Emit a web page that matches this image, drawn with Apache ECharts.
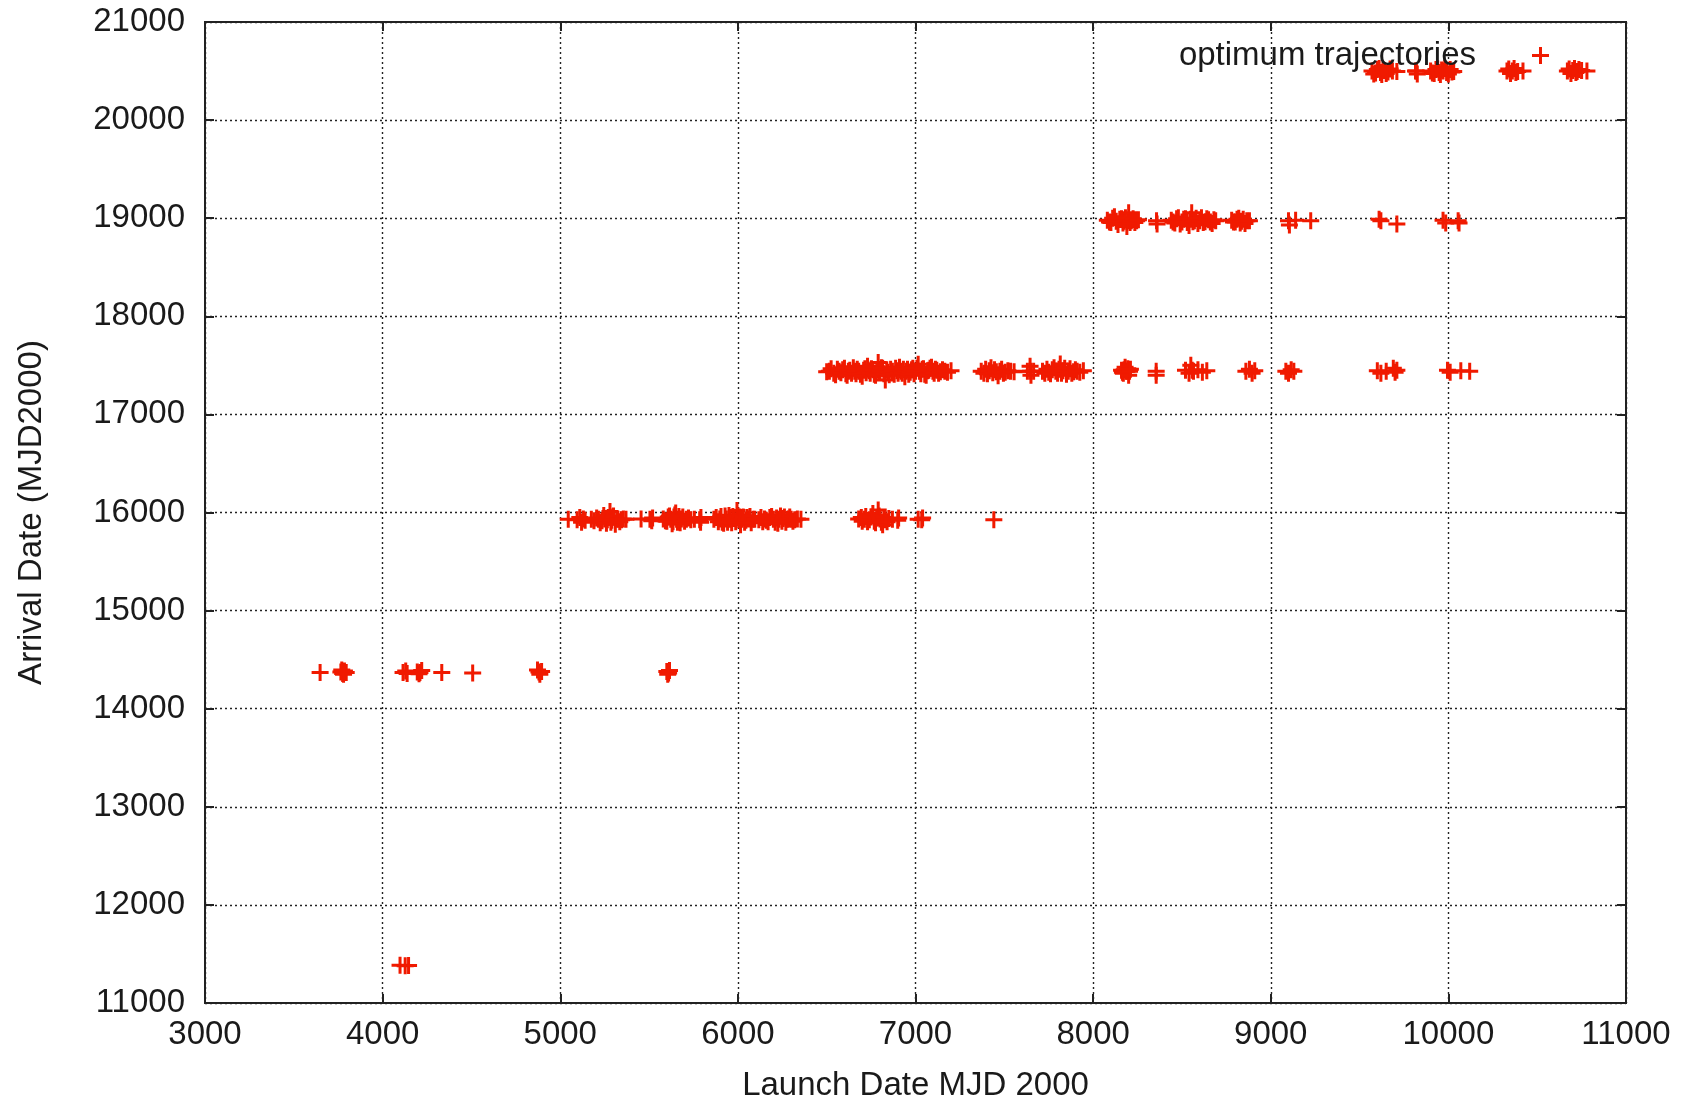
<!DOCTYPE html>
<html>
<head>
<meta charset="utf-8">
<title>optimum trajectories</title>
<script src="https://cdn.jsdelivr.net/npm/echarts@6/dist/echarts.min.js"></script>
<style>
  html, body { margin: 0; padding: 0; background: #fff; }
  #chart { width: 1691px; height: 1101px; }
</style>
</head>
<body>
<div id="chart"></div>
<script>
// axis ticks
var xTicks = [3000, 4000, 5000, 6000, 7000, 8000, 9000, 10000, 11000];
var yTicks = [11000, 12000, 13000, 14000, 15000, 16000, 17000, 18000, 19000, 20000, 21000];

// [launch date, arrival date], one array per arrival band
var band11400 = [[4098, 11385], [4127, 11380], [4146, 11383]];

var band14400 = [
  [3648, 14370], [3765, 14375], [3775, 14360], [3785, 14385], [3795, 14370], [3770, 14395], [3780, 14350],
  [4115, 14370], [4130, 14385], [4138, 14360], [4195, 14375], [4210, 14370], [4220, 14390], [4205, 14355],
  [4333, 14370], [4507, 14365], [4872, 14395], [4880, 14375], [4895, 14380], [4885, 14350],
  [5600, 14380], [5610, 14365], [5615, 14390], [5605, 14350]
];

var band15900 = [
  [5045, 15930], [5095, 15925], [5110, 15950], [5120, 15900], [5130, 15935], [5140, 15920],
  [5175, 15930], [5190, 15915], [5205, 15945], [5215, 15930], [5225, 15895], [5235, 15915], [5245, 15970],
  [5250, 15935], [5260, 15890], [5265, 15925], [5270, 15950], [5280, 16010], [5285, 15900], [5290, 15920],
  [5295, 15955], [5300, 15965], [5310, 15880], [5318, 15935], [5325, 15930], [5335, 15905], [5345, 15925],
  [5355, 15935], [5370, 15930],
  [5455, 15935], [5505, 15930], [5515, 15915], [5520, 15945],
  [5580, 15935], [5592, 15915], [5600, 15910], [5608, 15955], [5615, 15965], [5622, 15930], [5630, 15885],
  [5635, 15905], [5640, 15955], [5645, 15975], [5650, 15995], [5655, 15930], [5660, 15900], [5668, 15960],
  [5675, 15895], [5682, 15935], [5690, 15955], [5700, 15910], [5710, 15930], [5722, 15945], [5735, 15925],
  [5755, 15930],
  [5785, 15925], [5790, 15900], [5792, 15950],
  [5865, 15930], [5878, 15950], [5890, 15905], [5898, 15935], [5905, 15960], [5912, 15900], [5920, 15890],
  [5928, 15965], [5935, 15935], [5942, 15900], [5950, 15970], [5958, 15930], [5965, 15895], [5972, 15960],
  [5980, 15940], [5988, 15905], [5995, 16020], [6000, 15965], [6005, 15925], [6010, 15955], [6015, 15875],
  [6022, 15930], [6030, 15955], [6038, 15900], [6045, 15920], [6052, 15950], [6060, 15935], [6068, 15960],
  [6075, 15895], [6085, 15930], [6095, 15930],
  [6118, 15925], [6130, 15950], [6140, 15905], [6150, 15935], [6160, 15920], [6170, 15905], [6180, 15950],
  [6190, 15960], [6200, 15930], [6210, 15900], [6218, 15945], [6225, 15890], [6232, 15930], [6240, 15965],
  [6248, 15910], [6255, 15940], [6262, 15955], [6270, 15900], [6278, 15930], [6285, 15935], [6292, 15955],
  [6300, 15930], [6310, 15910], [6320, 15925], [6335, 15935], [6355, 15930],
  [6680, 15935], [6695, 15950], [6700, 15910], [6712, 15930], [6720, 15960], [6730, 15905], [6740, 15925],
  [6750, 15955], [6760, 15990], [6768, 15910], [6775, 15895], [6782, 15945], [6790, 16025], [6795, 15965],
  [6800, 15935], [6808, 15900], [6815, 15875], [6822, 15950], [6830, 15925], [6840, 15905], [6850, 15940],
  [6870, 15930], [6900, 15920], [6905, 15945],
  [7015, 15930], [7035, 15925], [7040, 15945],
  [7441, 15925]
];

var band17400 = [
  [6500, 17435], [6515, 17440], [6525, 17465], [6540, 17420], [6550, 17405], [6560, 17460], [6570, 17440],
  [6580, 17425], [6590, 17455], [6600, 17470], [6608, 17415], [6615, 17400], [6622, 17440], [6630, 17450],
  [6640, 17420], [6650, 17475], [6658, 17440], [6665, 17415], [6672, 17460], [6680, 17440], [6690, 17410],
  [6700, 17390], [6708, 17450], [6715, 17465], [6722, 17425], [6730, 17490], [6738, 17445], [6745, 17420],
  [6752, 17465], [6760, 17455], [6768, 17410], [6775, 17400], [6782, 17450], [6790, 17530], [6795, 17440],
  [6800, 17440], [6808, 17475], [6815, 17470], [6822, 17415], [6830, 17350], [6838, 17455], [6845, 17430],
  [6852, 17405], [6860, 17460], [6870, 17440], [6880, 17410], [6888, 17470], [6895, 17445], [6902, 17420],
  [6910, 17480], [6918, 17440], [6925, 17420], [6932, 17460], [6940, 17385], [6948, 17440], [6955, 17460],
  [6962, 17410], [6970, 17430], [6978, 17455], [6985, 17470], [6992, 17415], [7000, 17440], [7008, 17470],
  [7015, 17510], [7022, 17440], [7030, 17415], [7038, 17460], [7045, 17465], [7052, 17410], [7060, 17400],
  [7068, 17445], [7075, 17450], [7082, 17470], [7090, 17480], [7098, 17440], [7105, 17420], [7112, 17460],
  [7120, 17450], [7130, 17420], [7140, 17435], [7152, 17455], [7165, 17440], [7180, 17430], [7200, 17445],
  [7370, 17440], [7385, 17420], [7395, 17460], [7405, 17415], [7415, 17445], [7425, 17475], [7435, 17425],
  [7445, 17455], [7455, 17435], [7465, 17395], [7475, 17440], [7485, 17460], [7495, 17420], [7505, 17430],
  [7520, 17445], [7535, 17440], [7555, 17435],
  [7630, 17440], [7645, 17490], [7648, 17440], [7650, 17400], [7665, 17440],
  [7715, 17440], [7728, 17420], [7740, 17460], [7750, 17430], [7760, 17415], [7770, 17455], [7780, 17475],
  [7790, 17440], [7800, 17420], [7808, 17460], [7815, 17515], [7822, 17420], [7830, 17445], [7840, 17470],
  [7850, 17410], [7860, 17440], [7870, 17465], [7880, 17420], [7890, 17435], [7900, 17455], [7910, 17440],
  [7925, 17430], [7945, 17445],
  [8160, 17450], [8165, 17430], [8170, 17420], [8175, 17455], [8180, 17480], [8185, 17440], [8190, 17440],
  [8195, 17465], [8200, 17400], [8205, 17440], [8210, 17460],
  [8355, 17440], [8355, 17400],
  [8520, 17450], [8540, 17420], [8550, 17500], [8558, 17450], [8565, 17440], [8590, 17455], [8615, 17430],
  [8640, 17445],
  [8860, 17440], [8880, 17460], [8895, 17420], [8910, 17445],
  [9085, 17440], [9100, 17420], [9115, 17455], [9130, 17440],
  [9600, 17445], [9620, 17420], [9650, 17440], [9690, 17470], [9700, 17430], [9710, 17450],
  [9995, 17450], [10010, 17430], [10070, 17445], [10120, 17440]
];

var band19000 = [
  [8080, 18980], [8092, 18960], [8100, 18955], [8110, 19000], [8120, 19015], [8130, 18970], [8140, 18935],
  [8150, 18990], [8160, 18995], [8168, 18950], [8175, 18970], [8182, 19005], [8190, 18915], [8195, 18975],
  [8200, 19055], [8208, 18955], [8215, 18975], [8225, 18995], [8235, 18955], [8245, 18975], [8255, 18985],
  [8357, 18975], [8360, 18940],
  [8440, 18980], [8450, 18960], [8460, 18950], [8470, 18995], [8480, 19005], [8490, 18940], [8500, 18960],
  [8510, 18990], [8520, 18995], [8530, 18955], [8540, 18925], [8548, 18990], [8555, 19055], [8562, 18965],
  [8570, 18975], [8580, 19000], [8590, 18945], [8600, 18975], [8610, 19005], [8620, 18955], [8630, 18965],
  [8640, 18995], [8650, 18985], [8660, 18960], [8670, 18945], [8680, 18985], [8690, 18975],
  [8780, 18980], [8790, 18960], [8800, 18960], [8810, 18990], [8820, 19000], [8828, 18950], [8835, 18970],
  [8845, 18990], [8855, 18945], [8865, 18975], [8880, 18975],
  [9100, 18975], [9105, 18930], [9140, 18980], [9225, 18975],
  [9610, 18990], [9620, 18975], [9710, 18940],
  [9970, 18980], [9985, 18950], [10055, 18975], [10060, 18950]
];

var band20500 = [
  [9570, 20500], [9580, 20470], [9590, 20480], [9600, 20515], [9610, 20525], [9618, 20485], [9625, 20465],
  [9632, 20510], [9640, 20505], [9650, 20475], [9660, 20490], [9672, 20520], [9685, 20500], [9710, 20495],
  [9815, 20500], [9820, 20500], [9825, 20470],
  [9900, 20500], [9910, 20480], [9920, 20475], [9930, 20515], [9940, 20520], [9948, 20485], [9955, 20465],
  [9962, 20510], [9970, 20500], [9980, 20525], [9990, 20485], [10000, 20470], [10010, 20515], [10020, 20490],
  [10030, 20495],
  [10330, 20500], [10340, 20520], [10350, 20475], [10360, 20500], [10370, 20525], [10380, 20485], [10390, 20495],
  [10420, 20500],
  [10670, 20500], [10680, 20520], [10690, 20475], [10700, 20505], [10710, 20525], [10718, 20485], [10725, 20495],
  [10735, 20515], [10750, 20505], [10780, 20500]
];

var points = [].concat(band11400, band14400, band15900, band17400, band19000, band20500);

// gnuplot style "+" point
var plusSymbol = 'path://M7,0H10V7H17V10H10V17H7V10H0V7H7Z';
var red = '#f01a00';
var font = 'Arial, "Liberation Sans", sans-serif';

var chart = echarts.init(document.getElementById('chart'));

function axisLabelStyle() {
  return { fontSize: 33, color: '#1a1a1a', fontFamily: font, formatter: function (v) { return String(v); } };
}

chart.setOption({
  animation: false,
  backgroundColor: '#fff',
  grid: {
    left: 205, right: 65, top: 22, bottom: 98,
    outerBoundsMode: 'none',
    show: true, borderColor: '#222', borderWidth: 2, backgroundColor: '#fff'
  },
  legend: {
    data: ['optimum trajectories'],
    right: 137, top: 34,
    align: 'right',
    itemWidth: 17, itemHeight: 17,
    textStyle: { fontSize: 33, color: '#1a1a1a', fontFamily: font, padding: [0, 51, 0, 0] }
  },
  xAxis: [{
    type: 'value', min: 3000, max: 11000, interval: 1000,
    name: 'Launch Date MJD 2000', nameLocation: 'middle', nameGap: 66,
    nameTextStyle: { fontSize: 33, color: '#1a1a1a', fontFamily: font },
    axisLine: { show: false },
    axisTick: { show: true, inside: true, length: 9, lineStyle: { color: '#222', width: 2 } },
    axisLabel: Object.assign(axisLabelStyle(), { margin: 15 }),
    splitLine: { show: true, lineStyle: { type: [2, 3], color: '#222', width: 1.4 } }
  }, {
    type: 'value', min: 3000, max: 11000, interval: 1000, position: 'top',
    axisLine: { show: false }, axisLabel: { show: false }, splitLine: { show: false },
    axisTick: { show: true, inside: true, length: 9, lineStyle: { color: '#222', width: 2 } }
  }],
  yAxis: [{
    type: 'value', min: 11000, max: 21000, interval: 1000,
    name: 'Arrival Date (MJD2000)', nameLocation: 'middle', nameGap: 157,
    nameTextStyle: { fontSize: 33, color: '#1a1a1a', fontFamily: font },
    axisLine: { show: false },
    axisTick: { show: true, inside: true, length: 9, lineStyle: { color: '#222', width: 2 } },
    axisLabel: Object.assign(axisLabelStyle(), { margin: 20 }),
    splitLine: { show: true, lineStyle: { type: [2, 3], color: '#222', width: 1.4 } }
  }, {
    type: 'value', min: 11000, max: 21000, interval: 1000, position: 'right',
    axisLine: { show: false }, axisLabel: { show: false }, splitLine: { show: false },
    axisTick: { show: true, inside: true, length: 9, lineStyle: { color: '#222', width: 2 } }
  }],
  series: [{
    name: 'optimum trajectories',
    type: 'scatter',
    xAxisIndex: 0, yAxisIndex: 0,
    symbol: plusSymbol,
    symbolSize: 17,
    itemStyle: { color: red, opacity: 1 },
    data: points
  }]
});
</script>
</body>
</html>
